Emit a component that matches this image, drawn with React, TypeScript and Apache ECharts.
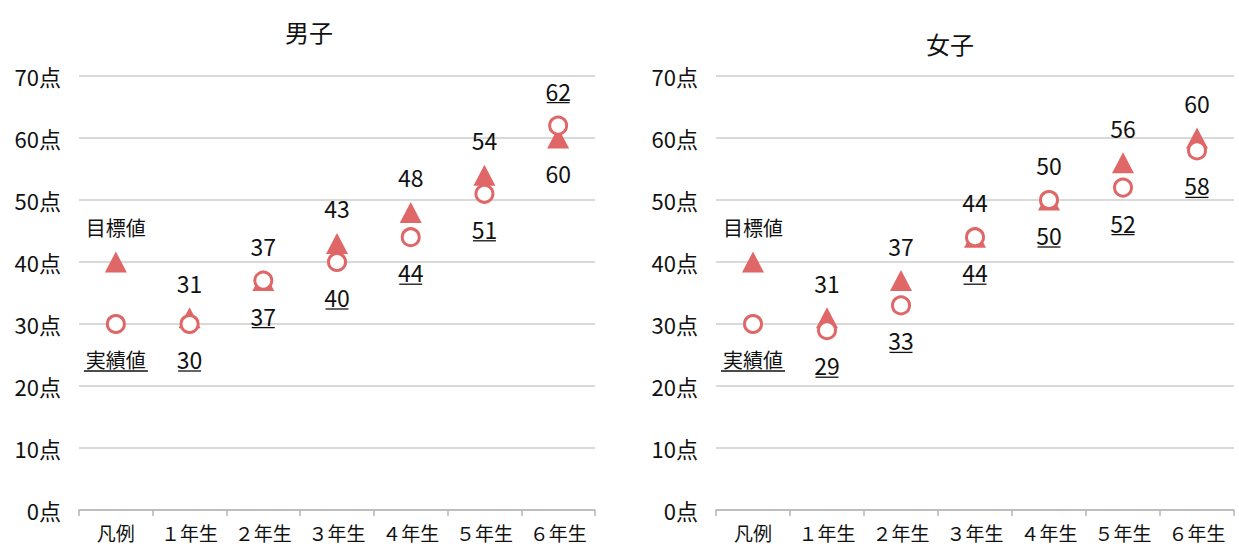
import React, { useEffect, useRef } from "react";
import * as echarts from "echarts";

const categories = ["凡例", "１年生", "２年生", "３年生", "４年生", "５年生", "６年生"];
const yTicks = [0, 10, 20, 30, 40, 50, 60, 70];
const boysTarget = [40, 31, 37, 43, 48, 54, 60];
const boysActual = [30, 30, 37, 40, 44, 51, 62];
const girlsTarget = [40, 31, 37, 44, 50, 56, 60];
const girlsActual = [30, 29, 33, 44, 50, 52, 58];
const legendTargetText = "目標値";
const legendActualText = "実績値";
const titles = ["男子", "女子"];

const RED = "#E06767";
const FONT = "'Liberation Sans Narrow', 'Noto Sans CJK JP', 'Noto Sans', sans-serif";

type LabelItem = { cat: number; value: number; text: string; dir: number; underline: boolean };

function buildLabels(target: number[], actual: number[]): LabelItem[] {
  const out: LabelItem[] = [];
  target.forEach((t, i) => {
    const a = actual[i];
    const tDir = t < a ? 1 : -1;
    const aDir = a > t ? -1 : 1;
    out.push({ cat: i, value: t, text: i === 0 ? legendTargetText : String(t), dir: tDir, underline: false });
    out.push({ cat: i, value: a, text: i === 0 ? legendActualText : String(a), dir: aDir, underline: true });
  });
  return out;
}

function labelSeries(items: LabelItem[], idx: number) {
  return {
    type: "custom",
    xAxisIndex: idx,
    yAxisIndex: idx,
    z: 10,
    silent: true,
    data: items.map((it) => [it.cat, it.value]),
    renderItem: (params: any, api: any) => {
      const it = items[params.dataIndex];
      const p = api.coord([it.cat, it.value]);
      const y = p[1] + it.dir * 35;
      const isCJK = /[^\x00-\x7F]/.test(it.text);
      const children: any[] = [
        {
          type: "text",
          x: p[0],
          y,
          style: {
            text: it.text,
            fontSize: isCJK ? 20 : 23,
            fontFamily: FONT,
            fill: "#111",
            align: "center",
            verticalAlign: "middle",
          },
        },
      ];
      if (it.underline) {
        const w = isCJK ? it.text.length * 20 + 4 : it.text.length * 10.5 + 2;
        children.push({
          type: "line",
          shape: { x1: p[0] - w / 2, y1: y + 12, x2: p[0] + w / 2, y2: y + 12 },
          style: { stroke: "#111", lineWidth: 1.3 },
        });
      }
      return { type: "group", children };
    },
  };
}

function scatterSeries(values: number[], idx: number, kind: "target" | "actual") {
  return {
    type: "scatter",
    xAxisIndex: idx,
    yAxisIndex: idx,
    z: kind === "actual" ? 4 : 3,
    symbol: kind === "actual" ? "circle" : "triangle",
    symbolSize: kind === "actual" ? 17 : [22, 21],
    itemStyle:
      kind === "actual"
        ? { color: "#fff", borderColor: RED, borderWidth: 3, opacity: 1 }
        : { color: RED, opacity: 1 },
    emphasis: { disabled: true },
    data: values.map((v, i) => [i, v]),
  };
}

export default function App() {
  const ref = useRef<HTMLDivElement>(null);
  useEffect(() => {
    document.body.style.margin = "0";
    const chart = echarts.init(ref.current!, null, { renderer: "svg" });
    const grids = [
      { left: 79, top: 76, width: 516, height: 434 },
      { left: 716, top: 76, width: 518, height: 434 },
    ];
    const xAxes = grids.map((_, i) => ({
      type: "category",
      gridIndex: i,
      data: categories,
      boundaryGap: true,
      axisLine: { lineStyle: { color: "#b5b5b5", width: 1.5 } },
      axisTick: { show: true, length: 6, lineStyle: { color: "#b5b5b5", width: 1.5 } },
      axisLabel: { interval: 0, fontSize: 19, lineHeight: 22, color: "#111", fontFamily: FONT, margin: 11 },
    }));
    const yAxes = grids.map((_, i) => ({
      type: "value",
      gridIndex: i,
      min: 0,
      max: 70,
      interval: 10,
      axisLine: { show: false },
      axisTick: { show: false },
      splitLine: { lineStyle: { color: "#cccccc", width: 1.5 } },
      axisLabel: {
        fontSize: 22,
        color: "#111",
        fontFamily: FONT,
        margin: 18,
        formatter: (v: number) => (yTicks.includes(v) ? `${v}点` : ""),
      },
    }));
    chart.setOption({
      animation: false,
      title: [
        { text: titles[0], left: 304, top: 14, textAlign: "center", textStyle: { fontSize: 24, fontWeight: "normal", color: "#111", fontFamily: FONT } },
        { text: titles[1], left: 945, top: 26, textAlign: "center", textStyle: { fontSize: 24, fontWeight: "normal", color: "#111", fontFamily: FONT } },
      ],
      grid: grids,
      xAxis: xAxes,
      yAxis: yAxes,
      series: [
        scatterSeries(boysTarget, 0, "target"),
        scatterSeries(boysActual, 0, "actual"),
        labelSeries(buildLabels(boysTarget, boysActual), 0),
        scatterSeries(girlsTarget, 1, "target"),
        scatterSeries(girlsActual, 1, "actual"),
        labelSeries(buildLabels(girlsTarget, girlsActual), 1),
      ],
    });
    return () => chart.dispose();
  }, []);
  return <div ref={ref} style={{ width: 1239, height: 546 }} />;
}
